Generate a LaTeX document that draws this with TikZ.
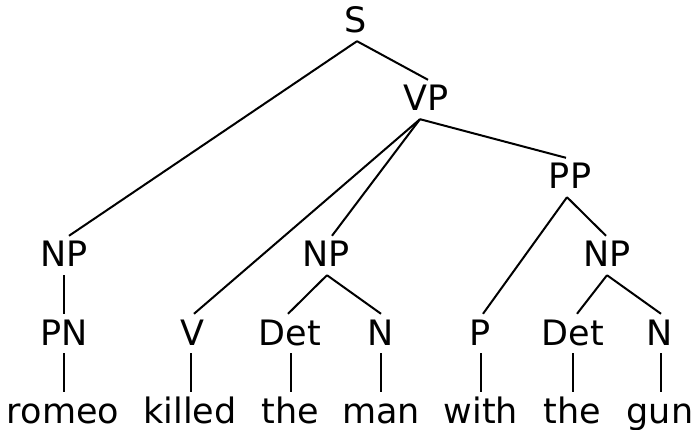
\documentclass[tikz,border=0pt]{standalone}
\usepackage{fontspec}
\setmainfont{DejaVu Sans}
\begin{document}
\begin{tikzpicture}[x=1pt,y=-1pt,
  lab/.style={anchor=base,inner sep=0pt,text height=31pt,text depth=8pt,
    font=\fontsize{35}{42}\selectfont},
  edge/.style={line width=2pt,line cap=butt}]
\useasboundingbox (0,0) rectangle (696,430);
% labels
\node[lab] (S) at (356,33) {S};
\node[lab] (VP) at (426,111) {VP};
\node[lab] (PP) at (570,189) {PP};
\node[lab] (NP1) at (64,267) {NP};
\node[lab] (NP2) at (326,267) {NP};
\node[lab] (NP3) at (607,267) {NP};
\node[lab] (PN) at (64,345) {PN};
\node[lab] (V) at (192,345) {V};
\node[lab] (Det1) at (290,345) {Det};
\node[lab] (N1) at (381,345) {N};
\node[lab] (P) at (480,345) {P};
\node[lab] (Det2) at (573,345) {Det};
\node[lab] (N2) at (660,345) {N};
\node[lab] (w1) at (63,423) {romeo};
\node[lab] (w2) at (190,423) {killed};
\node[lab] (w3) at (290,423) {the};
\node[lab] (w4) at (381,423) {man};
\node[lab] (w5) at (481,423) {with};
\node[lab] (w6) at (572,423) {the};
\node[lab] (w7) at (660,423) {gun};
% edges
\draw[edge] ([xshift=1pt]S.south) -- ([xshift=5pt]NP1.north);
\draw[edge] ([xshift=1pt]S.south) -- ([xshift=2pt]VP.north);
\draw[edge] ([xshift=-6pt]VP.south) -- ([xshift=2pt]V.north);
\draw[edge] ([xshift=-6pt]VP.south) -- ([xshift=6pt]NP2.north);
\draw[edge] ([xshift=-6pt]VP.south) -- ([xshift=-4pt]PP.north);
\draw[edge] ([xshift=-3pt]PP.south) -- ([xshift=3pt]P.north);
\draw[edge] ([xshift=-3pt]PP.south) -- ([xshift=-1pt]NP3.north);
\draw[edge] ([xshift=1pt]NP2.south) -- ([xshift=-2pt]Det1.north);
\draw[edge] ([xshift=1pt]NP2.south) -- (N1.north);
\draw[edge] (NP3.south) -- ([xshift=4pt]Det2.north);
\draw[edge] (NP3.south) -- ([xshift=1pt]N2.north);
\draw[edge] (NP1.south) -- (PN.north);
\draw[edge] (PN.south) -- ([xshift=1pt]w1.north);
\draw[edge] ([xshift=-1pt]V.south) -- ([xshift=1pt]w2.north);
\draw[edge] ([xshift=1pt]Det1.south) -- ([xshift=1pt]w3.north);
\draw[edge] (N1.south) -- (w4.north);
\draw[edge] ([xshift=1pt]P.south) -- (w5.north);
\draw[edge] (Det2.south) -- ([xshift=1pt]w6.north);
\draw[edge] ([xshift=1pt]N2.south) -- ([xshift=1pt]w7.north);
\end{tikzpicture}
\end{document}
